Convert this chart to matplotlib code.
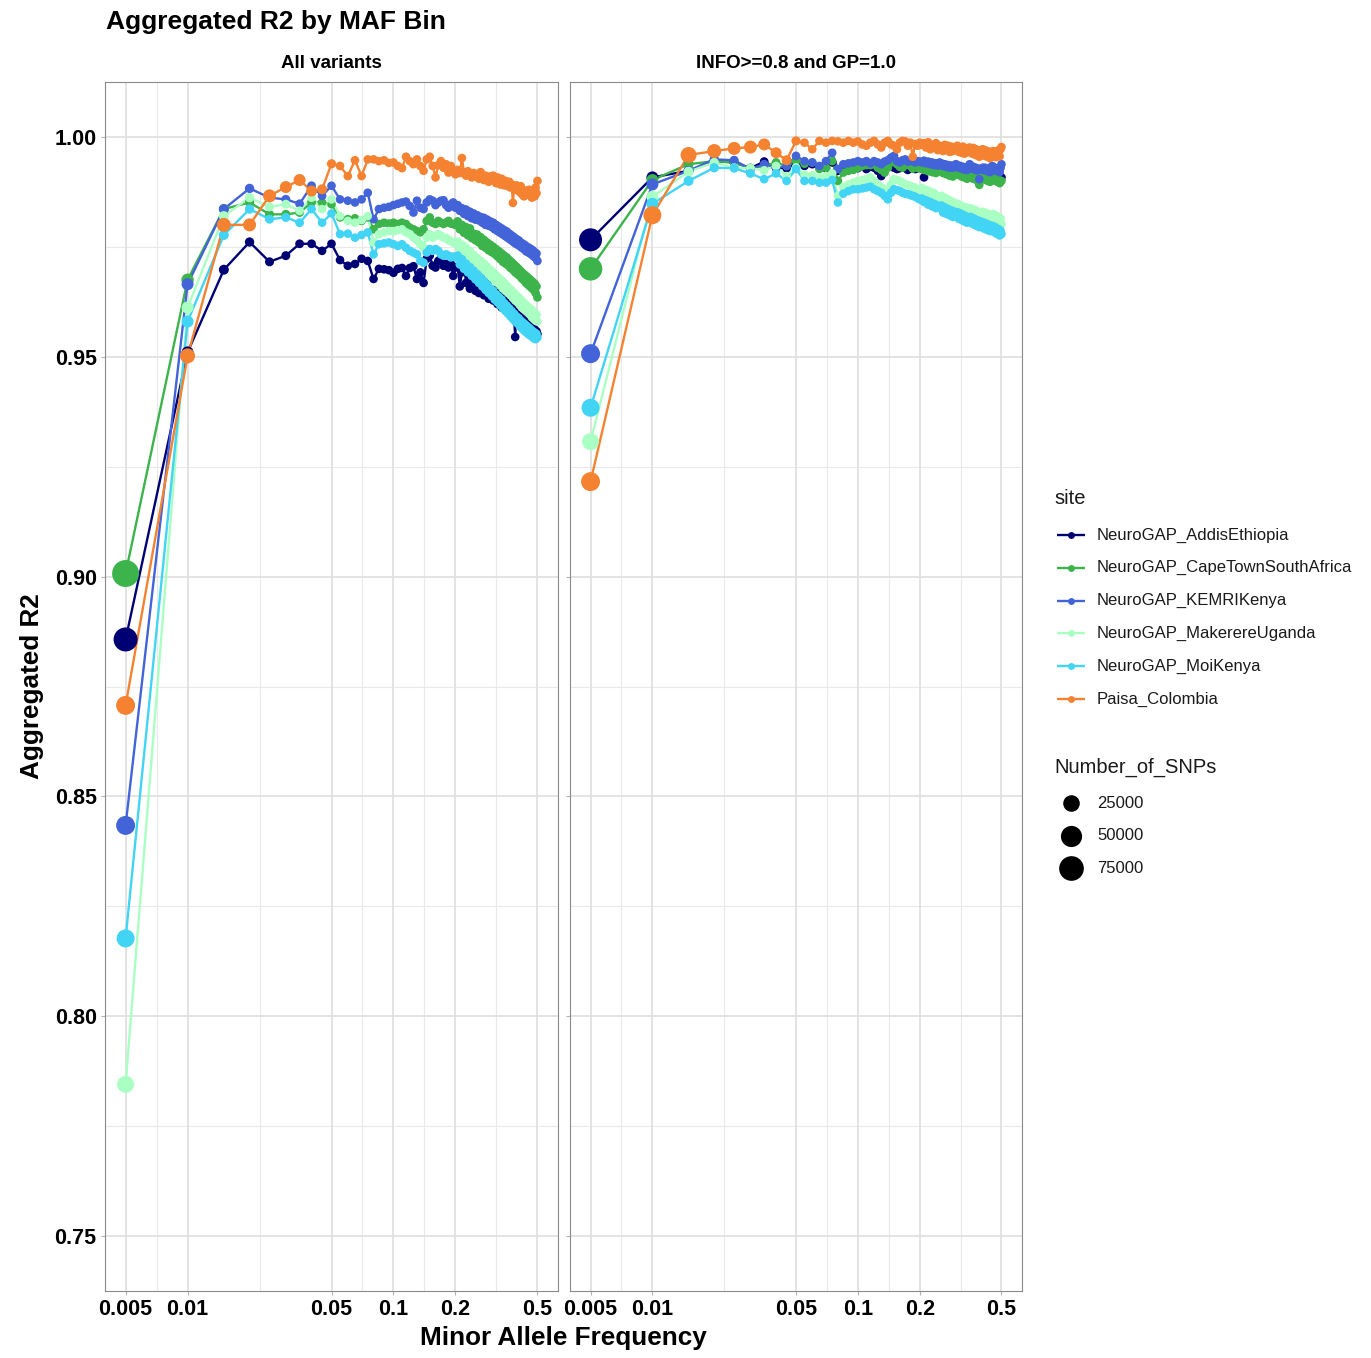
import numpy as np
import matplotlib
matplotlib.use("Agg")
import matplotlib.pyplot as plt
from matplotlib.ticker import NullLocator

# ------------------------
# Data
# ------------------------
maf_bins = [0.005, 0.01, 0.015, 0.02, 0.025, 0.03, 0.035, 0.04, 0.045, 0.05,
            0.055, 0.06, 0.065, 0.07, 0.075, 0.08, 0.085, 0.09, 0.095, 0.1,
            0.105, 0.11, 0.115, 0.12, 0.125, 0.13, 0.135, 0.14, 0.145, 0.15,
            0.155, 0.16, 0.165, 0.17, 0.175, 0.18, 0.185, 0.19, 0.195, 0.2,
            0.205, 0.21, 0.215, 0.22, 0.225, 0.23, 0.235, 0.24, 0.245, 0.25,
            0.255, 0.26, 0.265, 0.27, 0.275, 0.28, 0.285, 0.29, 0.295, 0.3,
            0.305, 0.31, 0.315, 0.32, 0.325, 0.33, 0.335, 0.34, 0.345, 0.35,
            0.355, 0.36, 0.365, 0.37, 0.375, 0.38, 0.385, 0.39, 0.395, 0.4,
            0.405, 0.41, 0.415, 0.42, 0.425, 0.43, 0.435, 0.44, 0.445, 0.45,
            0.455, 0.46, 0.465, 0.47, 0.475, 0.48, 0.485, 0.49, 0.495, 0.5]

sites = ["NeuroGAP_AddisEthiopia", "NeuroGAP_CapeTownSouthAfrica", "NeuroGAP_KEMRIKenya",
         "NeuroGAP_MakerereUganda", "NeuroGAP_MoiKenya", "Paisa_Colombia"]
site_colors = ["#000075", "#3cb44b", "#4363d8", "#aaffc3", "#42d4f4", "#f58231"]
panel_titles = ["All variants", "INFO>=0.8 and GP=1.0"]

x_breaks = [0.005, 0.01, 0.05, 0.1, 0.2, 0.5]
x_labels = ["0.005", "0.01", "0.05", "0.1", "0.2", "0.5"]
y_breaks = [0.75, 0.80, 0.85, 0.90, 0.95, 1.00]
y_labels = ["0.75", "0.80", "0.85", "0.90", "0.95", "1.00"]
size_breaks = [25000, 50000, 75000]

# --- All variants ---
r2_all_addis = [
    0.8857, 0.9510, 0.9698, 0.9761, 0.9716, 0.9730, 0.9757, 0.9757, 0.9741, 0.9757,
    0.9720, 0.9707, 0.9711, 0.9723, 0.9718, 0.9677, 0.9700, 0.9699, 0.9697, 0.9691,
    0.9700, 0.9702, 0.9684, 0.9702, 0.9706, 0.9677, 0.9692, 0.9668, 0.9723, 0.9730,
    0.9707, 0.9703, 0.9718, 0.9725, 0.9707, 0.9711, 0.9703, 0.9711, 0.9684, 0.9703,
    0.9705, 0.9660, 0.9692, 0.9712, 0.9668, 0.9690, 0.9655, 0.9682, 0.9670, 0.9650,
    0.9672, 0.9645, 0.9662, 0.9680, 0.9640, 0.9655, 0.9668, 0.9632, 0.9650, 0.9643,
    0.9628, 0.9652, 0.9638, 0.9620, 0.9645, 0.9630, 0.9612, 0.9636, 0.9622, 0.9627,
    0.9608, 0.9625, 0.9615, 0.9600, 0.9622, 0.9605, 0.9592, 0.9545, 0.9610, 0.9598,
    0.9590, 0.9605, 0.9582, 0.9596, 0.9575, 0.9590, 0.9570, 0.9585, 0.9578, 0.9565,
    0.9580, 0.9560, 0.9572, 0.9555, 0.9568, 0.9550, 0.9562, 0.9548, 0.9558, 0.9552]
r2_all_capetown = [
    0.9007, 0.9675, 0.9836, 0.9851, 0.9824, 0.9824, 0.9828, 0.9851, 0.9851, 0.9847,
    0.9817, 0.9813, 0.9815, 0.9809, 0.9817, 0.9790, 0.9802, 0.9805, 0.9803, 0.9805,
    0.9802, 0.9805, 0.9802, 0.9794, 0.9790, 0.9786, 0.9783, 0.9790, 0.9809, 0.9817,
    0.9805, 0.9802, 0.9809, 0.9805, 0.9802, 0.9805, 0.9809, 0.9803, 0.9802, 0.9800,
    0.9808, 0.9790, 0.9800, 0.9782, 0.9795, 0.9776, 0.9792, 0.9770, 0.9780, 0.9765,
    0.9778, 0.9760, 0.9772, 0.9752, 0.9766, 0.9748, 0.9760, 0.9742, 0.9755, 0.9738,
    0.9750, 0.9734, 0.9745, 0.9728, 0.9740, 0.9722, 0.9735, 0.9716, 0.9730, 0.9712,
    0.9726, 0.9708, 0.9720, 0.9702, 0.9715, 0.9698, 0.9710, 0.9692, 0.9705, 0.9688,
    0.9700, 0.9684, 0.9695, 0.9678, 0.9690, 0.9674, 0.9686, 0.9668, 0.9682, 0.9664,
    0.9678, 0.9660, 0.9674, 0.9656, 0.9670, 0.9652, 0.9666, 0.9645, 0.9660, 0.9635]
r2_all_kemri = [
    0.8434, 0.9665, 0.9836, 0.9883, 0.9862, 0.9858, 0.9848, 0.9889, 0.9866, 0.9889,
    0.9858, 0.9855, 0.9851, 0.9858, 0.9873, 0.9813, 0.9836, 0.9839, 0.9841, 0.9845,
    0.9848, 0.9851, 0.9853, 0.9843, 0.9828, 0.9855, 0.9839, 0.9836, 0.9851, 0.9858,
    0.9855, 0.9845, 0.9851, 0.9855, 0.9856, 0.9845, 0.9839, 0.9847, 0.9851, 0.9839,
    0.9845, 0.9832, 0.9838, 0.9825, 0.9835, 0.9820, 0.9830, 0.9815, 0.9826, 0.9812,
    0.9822, 0.9810, 0.9818, 0.9805, 0.9816, 0.9800, 0.9812, 0.9798, 0.9808, 0.9795,
    0.9805, 0.9790, 0.9800, 0.9786, 0.9796, 0.9782, 0.9792, 0.9778, 0.9788, 0.9774,
    0.9785, 0.9770, 0.9780, 0.9766, 0.9776, 0.9762, 0.9772, 0.9758, 0.9768, 0.9755,
    0.9765, 0.9752, 0.9760, 0.9748, 0.9757, 0.9745, 0.9754, 0.9740, 0.9750, 0.9738,
    0.9748, 0.9735, 0.9745, 0.9732, 0.9742, 0.9728, 0.9738, 0.9725, 0.9735, 0.9718]
r2_all_makerere = [
    0.7845, 0.9612, 0.9820, 0.9862, 0.9841, 0.9847, 0.9832, 0.9862, 0.9836, 0.9858,
    0.9820, 0.9809, 0.9805, 0.9811, 0.9820, 0.9760, 0.9779, 0.9783, 0.9786, 0.9785,
    0.9788, 0.9790, 0.9783, 0.9779, 0.9771, 0.9765, 0.9756, 0.9748, 0.9771, 0.9779,
    0.9771, 0.9775, 0.9779, 0.9775, 0.9771, 0.9770, 0.9765, 0.9764, 0.9760, 0.9758,
    0.9762, 0.9745, 0.9755, 0.9735, 0.9748, 0.9728, 0.9740, 0.9720, 0.9732, 0.9715,
    0.9725, 0.9708, 0.9718, 0.9700, 0.9712, 0.9694, 0.9705, 0.9686, 0.9698, 0.9680,
    0.9692, 0.9674, 0.9685, 0.9668, 0.9680, 0.9662, 0.9674, 0.9655, 0.9668, 0.9650,
    0.9662, 0.9645, 0.9656, 0.9640, 0.9650, 0.9634, 0.9645, 0.9628, 0.9640, 0.9624,
    0.9635, 0.9618, 0.9630, 0.9612, 0.9625, 0.9608, 0.9620, 0.9604, 0.9615, 0.9600,
    0.9612, 0.9596, 0.9608, 0.9590, 0.9604, 0.9586, 0.9600, 0.9582, 0.9596, 0.9580]
r2_all_moi = [
    0.8177, 0.9580, 0.9777, 0.9836, 0.9813, 0.9817, 0.9805, 0.9836, 0.9805, 0.9826,
    0.9779, 0.9780, 0.9771, 0.9777, 0.9783, 0.9733, 0.9756, 0.9758, 0.9760, 0.9756,
    0.9752, 0.9756, 0.9748, 0.9741, 0.9737, 0.9733, 0.9718, 0.9714, 0.9737, 0.9745,
    0.9741, 0.9745, 0.9741, 0.9733, 0.9730, 0.9733, 0.9730, 0.9726, 0.9728, 0.9726,
    0.9730, 0.9710, 0.9722, 0.9700, 0.9712, 0.9692, 0.9704, 0.9684, 0.9696, 0.9676,
    0.9688, 0.9668, 0.9680, 0.9660, 0.9672, 0.9652, 0.9664, 0.9645, 0.9656, 0.9638,
    0.9650, 0.9630, 0.9642, 0.9624, 0.9636, 0.9617, 0.9630, 0.9610, 0.9622, 0.9604,
    0.9616, 0.9598, 0.9610, 0.9592, 0.9604, 0.9586, 0.9598, 0.9580, 0.9592, 0.9576,
    0.9588, 0.9570, 0.9582, 0.9565, 0.9578, 0.9560, 0.9574, 0.9556, 0.9570, 0.9552,
    0.9566, 0.9549, 0.9562, 0.9546, 0.9558, 0.9542, 0.9555, 0.9540, 0.9552, 0.9544]
r2_all_paisa = [
    0.8707, 0.9502, 0.9800, 0.9800, 0.9866, 0.9886, 0.9902, 0.9877, 0.9881, 0.9939,
    0.9934, 0.9911, 0.9947, 0.9911, 0.9949, 0.9949, 0.9945, 0.9947, 0.9941, 0.9942,
    0.9934, 0.9929, 0.9955, 0.9945, 0.9938, 0.9949, 0.9934, 0.9923, 0.9949, 0.9955,
    0.9934, 0.9908, 0.9936, 0.9945, 0.9930, 0.9938, 0.9919, 0.9934, 0.9923, 0.9915,
    0.9925, 0.9918, 0.9952, 0.9920, 0.9912, 0.9922, 0.9915, 0.9908, 0.9918, 0.9911,
    0.9915, 0.9905, 0.9920, 0.9910, 0.9902, 0.9912, 0.9906, 0.9898, 0.9910, 0.9908,
    0.9912, 0.9902, 0.9895, 0.9908, 0.9900, 0.9892, 0.9905, 0.9898, 0.9890, 0.9900,
    0.9895, 0.9888, 0.9898, 0.9885, 0.9892, 0.9850, 0.9886, 0.9880, 0.9890, 0.9885,
    0.9882, 0.9875, 0.9888, 0.9870, 0.9880, 0.9865, 0.9876, 0.9868, 0.9872, 0.9877,
    0.9880, 0.9868, 0.9874, 0.9862, 0.9870, 0.9878, 0.9865, 0.9885, 0.9872, 0.9900]

# --- INFO>=0.8 and GP=1.0 ---
r2_filt_addis = [
    0.9766, 0.9908, 0.9923, 0.9945, 0.9942, 0.9929, 0.9944, 0.9930, 0.9929, 0.9938,
    0.9934, 0.9938, 0.9932, 0.9929, 0.9942, 0.9923, 0.9930, 0.9934, 0.9932, 0.9929,
    0.9934, 0.9927, 0.9932, 0.9930, 0.9923, 0.9911, 0.9929, 0.9932, 0.9934, 0.9930,
    0.9927, 0.9929, 0.9932, 0.9929, 0.9925, 0.9929, 0.9930, 0.9927, 0.9929, 0.9932,
    0.9928, 0.9908, 0.9930, 0.9926, 0.9928, 0.9922, 0.9926, 0.9920, 0.9924, 0.9923,
    0.9926, 0.9920, 0.9924, 0.9918, 0.9922, 0.9916, 0.9920, 0.9914, 0.9918, 0.9919,
    0.9921, 0.9915, 0.9920, 0.9914, 0.9918, 0.9912, 0.9916, 0.9910, 0.9915, 0.9919,
    0.9917, 0.9912, 0.9916, 0.9910, 0.9914, 0.9908, 0.9912, 0.9906, 0.9910, 0.9915,
    0.9913, 0.9908, 0.9912, 0.9906, 0.9910, 0.9904, 0.9908, 0.9902, 0.9906, 0.9915,
    0.9912, 0.9906, 0.9910, 0.9904, 0.9908, 0.9902, 0.9906, 0.9900, 0.9905, 0.9908]
r2_filt_capetown = [
    0.9700, 0.9902, 0.9938, 0.9945, 0.9942, 0.9929, 0.9934, 0.9942, 0.9934, 0.9945,
    0.9939, 0.9942, 0.9927, 0.9930, 0.9945, 0.9900, 0.9919, 0.9923, 0.9925, 0.9930,
    0.9934, 0.9936, 0.9936, 0.9938, 0.9930, 0.9925, 0.9919, 0.9930, 0.9942, 0.9945,
    0.9938, 0.9932, 0.9930, 0.9936, 0.9940, 0.9934, 0.9928, 0.9932, 0.9930, 0.9929,
    0.9932, 0.9925, 0.9930, 0.9922, 0.9926, 0.9920, 0.9925, 0.9918, 0.9922, 0.9923,
    0.9925, 0.9918, 0.9922, 0.9915, 0.9920, 0.9912, 0.9918, 0.9910, 0.9915, 0.9920,
    0.9922, 0.9914, 0.9918, 0.9910, 0.9915, 0.9908, 0.9912, 0.9905, 0.9910, 0.9915,
    0.9912, 0.9906, 0.9910, 0.9904, 0.9908, 0.9902, 0.9906, 0.9891, 0.9905, 0.9911,
    0.9910, 0.9904, 0.9908, 0.9902, 0.9906, 0.9900, 0.9904, 0.9898, 0.9902, 0.9911,
    0.9908, 0.9902, 0.9906, 0.9900, 0.9904, 0.9898, 0.9902, 0.9895, 0.9900, 0.9900]
r2_filt_kemri = [
    0.9507, 0.9892, 0.9923, 0.9949, 0.9947, 0.9927, 0.9938, 0.9930, 0.9934, 0.9957,
    0.9945, 0.9942, 0.9934, 0.9945, 0.9964, 0.9927, 0.9938, 0.9940, 0.9942, 0.9945,
    0.9942, 0.9945, 0.9940, 0.9945, 0.9942, 0.9938, 0.9944, 0.9947, 0.9953, 0.9957,
    0.9945, 0.9942, 0.9947, 0.9949, 0.9944, 0.9945, 0.9947, 0.9942, 0.9945, 0.9944,
    0.9942, 0.9946, 0.9940, 0.9944, 0.9938, 0.9942, 0.9936, 0.9940, 0.9935, 0.9942,
    0.9940, 0.9934, 0.9938, 0.9932, 0.9936, 0.9930, 0.9935, 0.9930, 0.9934, 0.9938,
    0.9936, 0.9930, 0.9934, 0.9928, 0.9932, 0.9926, 0.9930, 0.9925, 0.9930, 0.9938,
    0.9934, 0.9928, 0.9932, 0.9926, 0.9930, 0.9924, 0.9928, 0.9904, 0.9926, 0.9927,
    0.9930, 0.9925, 0.9930, 0.9924, 0.9928, 0.9922, 0.9926, 0.9920, 0.9925, 0.9934,
    0.9932, 0.9926, 0.9930, 0.9924, 0.9928, 0.9922, 0.9926, 0.9920, 0.9930, 0.9938]
r2_filt_makerere = [
    0.9307, 0.9864, 0.9921, 0.9942, 0.9930, 0.9929, 0.9924, 0.9934, 0.9911, 0.9931,
    0.9915, 0.9913, 0.9908, 0.9911, 0.9917, 0.9866, 0.9886, 0.9892, 0.9896, 0.9900,
    0.9902, 0.9904, 0.9908, 0.9900, 0.9892, 0.9886, 0.9881, 0.9873, 0.9892, 0.9904,
    0.9902, 0.9900, 0.9896, 0.9892, 0.9891, 0.9889, 0.9886, 0.9885, 0.9881, 0.9881,
    0.9884, 0.9874, 0.9880, 0.9868, 0.9876, 0.9864, 0.9872, 0.9858, 0.9866, 0.9862,
    0.9866, 0.9852, 0.9862, 0.9848, 0.9858, 0.9844, 0.9854, 0.9840, 0.9850, 0.9843,
    0.9848, 0.9835, 0.9845, 0.9832, 0.9842, 0.9830, 0.9840, 0.9826, 0.9837, 0.9836,
    0.9838, 0.9825, 0.9835, 0.9822, 0.9833, 0.9820, 0.9830, 0.9818, 0.9829, 0.9828,
    0.9830, 0.9817, 0.9828, 0.9815, 0.9826, 0.9812, 0.9824, 0.9810, 0.9822, 0.9824,
    0.9825, 0.9810, 0.9822, 0.9806, 0.9820, 0.9804, 0.9818, 0.9800, 0.9815, 0.9802]
r2_filt_moi = [
    0.9384, 0.9848, 0.9900, 0.9930, 0.9929, 0.9917, 0.9904, 0.9917, 0.9900, 0.9927,
    0.9900, 0.9900, 0.9896, 0.9896, 0.9902, 0.9851, 0.9871, 0.9877, 0.9881, 0.9881,
    0.9883, 0.9885, 0.9887, 0.9881, 0.9877, 0.9873, 0.9866, 0.9858, 0.9873, 0.9881,
    0.9879, 0.9877, 0.9873, 0.9871, 0.9870, 0.9868, 0.9866, 0.9864, 0.9861, 0.9858,
    0.9860, 0.9852, 0.9856, 0.9846, 0.9852, 0.9842, 0.9848, 0.9838, 0.9844, 0.9839,
    0.9844, 0.9828, 0.9840, 0.9825, 0.9836, 0.9822, 0.9833, 0.9818, 0.9830, 0.9824,
    0.9829, 0.9814, 0.9826, 0.9811, 0.9823, 0.9808, 0.9820, 0.9805, 0.9817, 0.9817,
    0.9818, 0.9803, 0.9815, 0.9800, 0.9812, 0.9798, 0.9810, 0.9795, 0.9808, 0.9805,
    0.9806, 0.9792, 0.9804, 0.9790, 0.9802, 0.9788, 0.9800, 0.9786, 0.9797, 0.9798,
    0.9797, 0.9784, 0.9795, 0.9781, 0.9792, 0.9779, 0.9790, 0.9776, 0.9787, 0.9779]
r2_filt_paisa = [
    0.9216, 0.9822, 0.9959, 0.9968, 0.9974, 0.9977, 0.9983, 0.9964, 0.9947, 0.9991,
    0.9987, 0.9972, 0.9991, 0.9987, 0.9991, 0.9990, 0.9987, 0.9991, 0.9987, 0.9990,
    0.9983, 0.9980, 0.9987, 0.9991, 0.9983, 0.9976, 0.9987, 0.9991, 0.9983, 0.9980,
    0.9972, 0.9987, 0.9991, 0.9990, 0.9980, 0.9987, 0.9955, 0.9984, 0.9980, 0.9987,
    0.9982, 0.9986, 0.9976, 0.9988, 0.9972, 0.9982, 0.9975, 0.9986, 0.9970, 0.9980,
    0.9978, 0.9968, 0.9982, 0.9972, 0.9980, 0.9966, 0.9978, 0.9968, 0.9976, 0.9976,
    0.9980, 0.9966, 0.9976, 0.9964, 0.9978, 0.9962, 0.9974, 0.9965, 0.9970, 0.9976,
    0.9974, 0.9962, 0.9975, 0.9960, 0.9972, 0.9958, 0.9970, 0.9955, 0.9968, 0.9968,
    0.9972, 0.9958, 0.9970, 0.9956, 0.9968, 0.9955, 0.9966, 0.9952, 0.9964, 0.9964,
    0.9968, 0.9956, 0.9966, 0.9954, 0.9965, 0.9958, 0.9970, 0.9956, 0.9972, 0.9977]

# Number of SNPs in the first ten MAF bins (0.005 .. 0.05); later bins are small
snps_all_addis = [70000, 8600, 4100, 3000, 2500, 2500, 2200, 2200, 2000, 2000]
snps_all_capetown = [94000, 10000, 4100, 3000, 2500, 2500, 2200, 2200, 2000, 2000]
snps_all_kemri = [37000, 8600, 4100, 3000, 2500, 2500, 2200, 2200, 2000, 2000]
snps_all_makerere = [27000, 8600, 4100, 3000, 2500, 2500, 2200, 2200, 2000, 2000]
snps_all_moi = [32000, 8600, 4100, 3000, 2500, 2500, 2200, 2200, 2000, 2000]
snps_all_paisa = [37000, 18400, 14700, 11500, 11500, 8600, 8600, 6200, 4100, 2800]
snps_filt_addis = [62500, 8600, 4100, 3000, 2500, 2500, 2200, 2200, 2000, 2000]
snps_filt_capetown = [66000, 8600, 4100, 3000, 2500, 2500, 2200, 2200, 2000, 2000]
snps_filt_kemri = [37000, 8600, 4100, 3000, 2500, 2500, 2200, 2200, 2000, 2000]
snps_filt_makerere = [27000, 8600, 4100, 3000, 2500, 2500, 2200, 2200, 2000, 2000]
snps_filt_moi = [32000, 8600, 4100, 3000, 2500, 2500, 2200, 2200, 2000, 2000]
snps_filt_paisa = [37000, 31900, 22500, 14700, 11500, 11500, 8600, 6200, 4100, 2800]
snps_tail = 2000

panel_r2 = [
    [r2_all_addis, r2_all_capetown, r2_all_kemri, r2_all_makerere, r2_all_moi, r2_all_paisa],
    [r2_filt_addis, r2_filt_capetown, r2_filt_kemri, r2_filt_makerere, r2_filt_moi, r2_filt_paisa],
]
panel_snps = [
    [snps_all_addis, snps_all_capetown, snps_all_kemri, snps_all_makerere, snps_all_moi, snps_all_paisa],
    [snps_filt_addis, snps_filt_capetown, snps_filt_kemri, snps_filt_makerere, snps_filt_moi, snps_filt_paisa],
]

# ------------------------
# Layout (pixels)
# ------------------------
W, H = 1371, 1358
DPI = 100
PANELS_X = [(105, 558), (570, 1022)]
PANEL_TOP, PANEL_BOT = 82, 1291
FONT = "Liberation Sans"
GRID_MAJOR = "#dedede"
GRID_MINOR = "#e9e9e9"
BORDER = "#8a8a8a"


def diam_px(n):
    return 5.5 + 0.07 * np.sqrt(np.asarray(n, dtype=float))


def area_pt2(n):
    return (diam_px(n) * 72.0 / DPI) ** 2


def log_mid(a, b):
    return float(np.sqrt(a * b))


plt.rcParams["font.family"] = [FONT, "DejaVu Sans"]

fig = plt.figure(figsize=(W / DPI, H / DPI), dpi=DPI)

x_minor = [log_mid(a, b) for a, b in zip(x_breaks[:-1], x_breaks[1:])]
y_minor = [(a + b) / 2 for a, b in zip(y_breaks[:-1], y_breaks[1:])]
maf = np.array(maf_bins)

for p, (x0, x1) in enumerate(PANELS_X):
    ax = fig.add_axes([x0 / W, 1 - PANEL_BOT / H, (x1 - x0) / W, (PANEL_BOT - PANEL_TOP) / H])
    ax.set_xscale("log")
    ax.set_xlim(0.005 / 10 ** 0.1, 0.5 * 10 ** 0.1)
    ax.set_ylim(0.7375, 1.0125)

    # grid
    for xv in x_minor:
        ax.axvline(xv, color=GRID_MINOR, lw=0.8, zorder=0)
    for yv in y_minor:
        ax.axhline(yv, color=GRID_MINOR, lw=0.8, zorder=0)
    for xv in x_breaks:
        ax.axvline(xv, color=GRID_MAJOR, lw=1.2, zorder=0)
    for yv in y_breaks:
        ax.axhline(yv, color=GRID_MAJOR, lw=1.2, zorder=0)

    # lines then points (ggplot layer order)
    for series, col in zip(panel_r2[p], site_colors):
        ax.plot(maf, series, color=col, lw=1.7, zorder=2, solid_capstyle="butt")
    for series, head, col in zip(panel_r2[p], panel_snps[p], site_colors):
        counts = list(head) + [snps_tail] * (len(maf_bins) - len(head))
        ax.scatter(maf, series, s=area_pt2(counts), color=col, linewidths=0, zorder=3)

    ax.set_xticks(x_breaks)
    ax.set_xticklabels(x_labels)
    ax.xaxis.set_minor_locator(NullLocator())
    ax.set_yticks(y_breaks)
    if p == 0:
        ax.set_yticklabels(y_labels)
    else:
        ax.set_yticklabels([])
    ax.tick_params(axis="both", length=3, width=0.8, color="#b3b3b3", pad=3,
                   labelsize=15.5, labelcolor="black")
    for lab in ax.get_xticklabels() + ax.get_yticklabels():
        lab.set_fontweight("bold")
    for sp in ax.spines.values():
        sp.set_color(BORDER)
        sp.set_linewidth(0.8)

    fig.text((x0 + x1) / 2 / W, 1 - 64 / H, panel_titles[p], ha="center", va="center",
             fontsize=13.5, fontweight="bold")

# titles
fig.text(106 / W, 1 - 22 / H, "Aggregated R2 by MAF Bin", ha="left", va="center",
         fontsize=19, fontweight="bold")
fig.text(563 / W, 1 - 1338 / H, "Minor Allele Frequency", ha="center", va="center",
         fontsize=18.8, fontweight="bold")
fig.text(32 / W, 1 - 686 / H, "Aggregated R2", ha="center", va="center", rotation=90,
         fontsize=18.8, fontweight="bold")

# ------------------------
# Legend (drawn in pixel coordinates)
# ------------------------
lax = fig.add_axes([0, 0, 1, 1])
lax.set_xlim(0, W)
lax.set_ylim(H, 0)
lax.axis("off")
lax.patch.set_alpha(0)

lax.text(1054, 499, "site", ha="left", va="center", fontsize=14.5, color="#1a1a1a")
for i, (name, col) in enumerate(zip(sites, site_colors)):
    y = 535 + i * 32.8
    lax.plot([1057, 1085], [y, y], color=col, lw=1.7, solid_capstyle="butt")
    lax.scatter([1071], [y], s=area_pt2(400), color=col, linewidths=0, zorder=3)
    lax.text(1097, y, name, ha="left", va="center", fontsize=12, color="#1a1a1a")

lax.text(1054, 767, "Number_of_SNPs", ha="left", va="center", fontsize=14.5, color="#1a1a1a")
for i, n in enumerate(size_breaks):
    y = 803 + i * 32.6
    lax.scatter([1071], [y], s=area_pt2(n), color="black", linewidths=0)
    lax.text(1097, y, str(n), ha="left", va="center", fontsize=12, color="#1a1a1a")

fig.savefig("out.png", dpi=DPI, facecolor="white")
